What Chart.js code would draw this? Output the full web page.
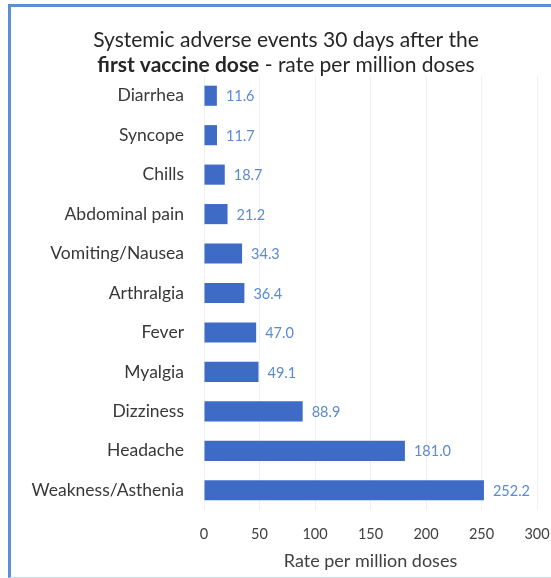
<!DOCTYPE html>
<html>
<head>
<meta charset="utf-8">
<script src="https://cdn.jsdelivr.net/npm/chart.js@4"></script>
<style>
  html, body { margin: 0; padding: 0; background: #fff; overflow: hidden; }
  #wrap { position: relative; width: 551px; height: 578px; }
  #frame {
    position: absolute; left: 8px; top: 4px; width: 600px; height: 570px;
    border-left: 3px solid #5b8fd3; border-top: 3px solid #5b8fd3;
    border-bottom: 1px solid #c9dcf2;
  }
  #chart { position: absolute; left: 0; top: 0; }
</style>
</head>
<body>
<div id="wrap">
  <div id="frame"></div>
  <canvas id="chart" width="551" height="578"></canvas>
</div>
<script>
const categories = [
  'Diarrhea', 'Syncope', 'Chills', 'Abdominal pain', 'Vomiting/Nausea',
  'Arthralgia', 'Fever', 'Myalgia', 'Dizziness', 'Headache', 'Weakness/Asthenia'
];
const rates = [11.6, 11.7, 18.7, 21.2, 34.3, 36.4, 47.0, 49.1, 88.9, 181.0, 252.2];
const xTicks = [0, 50, 100, 150, 200, 250, 300];

const FONT = 'Lato, "Open Sans", sans-serif';
const TITLE_SIZE = 21;

// two-line title, with the middle phrase in bold
const titlePlugin = {
  id: 'twoLineTitle',
  afterDraw(chart) {
    const ctx = chart.ctx;
    const cx = 286;
    ctx.save();
    ctx.fillStyle = '#262626';
    ctx.textBaseline = 'middle';
    ctx.textAlign = 'center';
    ctx.font = TITLE_SIZE + 'px ' + FONT;
    ctx.fillText('Systemic adverse events 30 days after the', cx, 40);

    const boldPart = 'first vaccine dose';
    const restPart = ' - rate per million doses';
    ctx.font = 'bold ' + TITLE_SIZE + 'px ' + FONT;
    const wb = ctx.measureText(boldPart).width;
    ctx.font = TITLE_SIZE + 'px ' + FONT;
    const wr = ctx.measureText(restPart).width;
    const x = cx - (wb + wr) / 2;
    ctx.textAlign = 'left';
    ctx.font = 'bold ' + TITLE_SIZE + 'px ' + FONT;
    ctx.fillText(boldPart, x, 65);
    ctx.font = TITLE_SIZE + 'px ' + FONT;
    ctx.fillText(restPart, x + wb, 65);
    ctx.restore();
  }
};

// value printed just past the end of each bar
const valueLabels = {
  id: 'valueLabels',
  afterDatasetsDraw(chart) {
    const ctx = chart.ctx;
    const meta = chart.getDatasetMeta(0);
    ctx.save();
    ctx.font = '14.5px ' + FONT;
    ctx.fillStyle = '#5a8ad0';
    ctx.textAlign = 'left';
    ctx.textBaseline = 'middle';
    meta.data.forEach((bar, i) => {
      ctx.fillText(rates[i].toFixed(1), bar.x + 9, bar.y + 1);
    });
    ctx.restore();
  }
};

new Chart(document.getElementById('chart'), {
  type: 'bar',
  data: {
    labels: categories,
    datasets: [{
      data: rates,
      backgroundColor: '#3e6bc6',
      borderWidth: 0,
      categoryPercentage: 1,
      barPercentage: 0.51
    }]
  },
  options: {
    indexAxis: 'y',
    responsive: false,
    animation: false,
    events: [],
    layout: { padding: { top: 76, right: 14, bottom: 0, left: 0 } },
    plugins: {
      legend: { display: false },
      tooltip: { enabled: false }
    },
    scales: {
      x: {
        min: 0,
        max: 300,
        afterBuildTicks(scale) {
          scale.ticks = xTicks.map(v => ({ value: v }));
        },
        afterFit(scale) {
          scale.height = 68;
          // the "300" label may hang into the right margin
          scale.paddingLeft = 0;
          scale.paddingRight = 0;
        },
        grid: { color: '#f0f0f0', drawTicks: false },
        border: { display: false },
        ticks: {
          padding: 16,
          color: '#404040',
          font: { family: FONT, size: 14.5 }
        },
        title: {
          display: true,
          text: 'Rate per million doses',
          color: '#404040',
          font: { family: FONT, size: 18 },
          padding: { top: 0, bottom: 6 }
        }
      },
      y: {
        afterFit(scale) { scale.width = 204; },
        grid: { display: false },
        border: { display: false },
        ticks: {
          padding: 12,
          color: '#383838',
          font: { family: FONT, size: 17.5 }
        }
      }
    }
  },
  plugins: [titlePlugin, valueLabels]
});
</script>
</body>
</html>
